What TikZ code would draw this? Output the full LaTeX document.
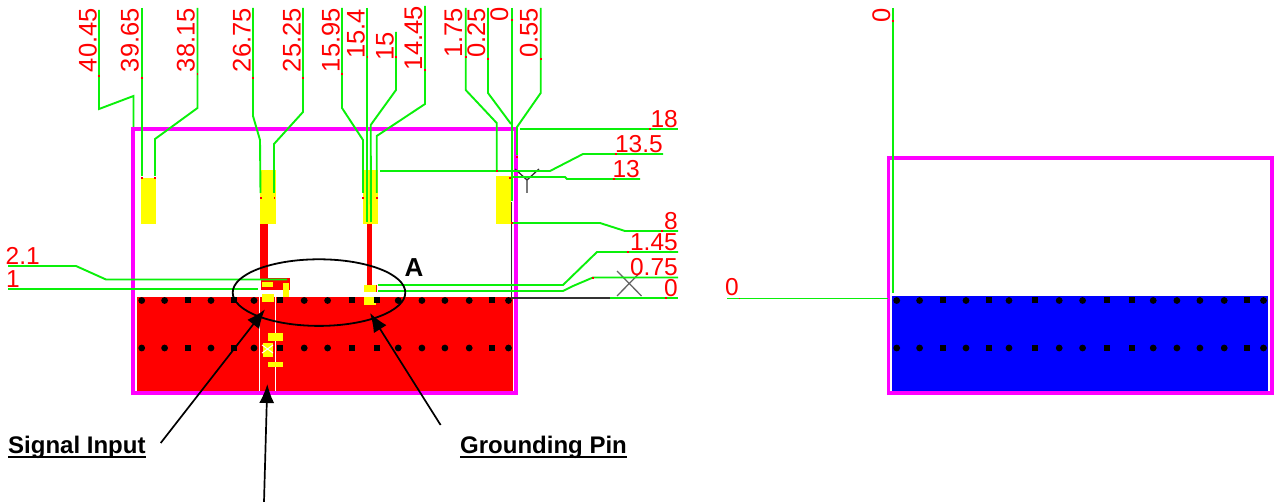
\documentclass[tikz,border=0pt]{standalone}
\usepackage{fontspec}
\setmainfont{Liberation Sans}
\usetikzlibrary{arrows.meta}
\definecolor{pgreen}{RGB}{10,240,10}
\definecolor{pmag}{RGB}{255,0,255}
\definecolor{pred}{RGB}{255,0,0}
\definecolor{pyel}{RGB}{255,255,0}
\definecolor{pblue}{RGB}{0,0,255}
\definecolor{axisgrey}{RGB}{50,50,50}
\newcommand{\ulbox}[1]{\setbox0\hbox{#1}\rlap{\rule[-4.5pt]{\wd0}{2.2pt}}\box0}
\newcommand{\viadots}[1]{%
 \foreach \yy in {300.5,348}{
  \foreach \xx/\kk in {141.7/c,164.6/c,188.3/s,211/c,234.3/s,254/c,280.2/s,304.2/c,327.6/c,351.6/s,377.4/s,398.2/c,421.9/c,444.9/c,469.2/c,492.2/s,508.5/c}{
   \pgfmathsetmacro{\xp}{\xx+#1}
   \if\kk c\fill[black] (\xp,\yy) circle[radius=3.4pt];\else\fill[black] (\xp-3,\yy-3) rectangle (\xp+3,\yy+3);\fi
  }}}
\tikzset{
 x=1pt,y=-1pt,
 trace/.style={draw=pgreen,line width=1.9pt,line join=miter},
 outline/.style={draw=pmag,line width=3.4pt},
 axisline/.style={draw=axisgrey,line width=1.8pt},
 vlab/.style={text=pred,font=\fontsize{25.5}{25.5}\selectfont,rotate=90,anchor=south east,inner sep=0pt},
 hlab/.style={text=pred,font=\fontsize{24.5}{24.5}\selectfont,anchor=south east,inner sep=0pt},
 callout/.style={text=black,font=\bfseries\fontsize{24}{24}\selectfont,anchor=base west,inner sep=0pt},
 pointer/.style={draw=black,line width=1.7pt,-{Latex[length=19pt,width=15pt]}},
 pad/.style={fill=pyel},
 copper/.style={fill=pred},
 tick/.style={fill=pred}
}
\begin{document}
\begin{tikzpicture}
\useasboundingbox (0,0) rectangle (1274,502);
\fill[white] (0,0) rectangle (1274,502);
% ---------- left board
\fill[copper] (137,297.5) rectangle (512.8,392);
\fill[white] (258.5,297.5) rectangle (260,392);
\fill[white] (274.5,297.5) rectangle (276,392);
\draw[outline] (133,129) -- (516,129) -- (516,393) -- (133,393) -- cycle;
% pads and stems
\fill[pad] (140.5,178) rectangle (156,224);
\fill[pad] (260,170) rectangle (275.5,224);
\fill[pad] (362.7,170) rectangle (377.7,224);
\fill[pad] (495.7,176) rectangle (511,224);
\fill[copper] (260.3,224) rectangle (268.3,279);
\fill[copper] (366.7,224) rectangle (372,286);
% input region
\fill[copper] (260.7,278.3) rectangle (290,290);
\fill[pad] (262,281.7) rectangle (273.3,287.3);
\fill[pad] (283.3,283.3) rectangle (288.7,296.7);
\fill[pad] (262,294) rectangle (274,301.7);
\fill[pad] (267.7,332.7) rectangle (283.3,340.7);
\fill[pad] (263.3,342.7) rectangle (272.7,357.3);
\fill[pad] (267.7,361.7) rectangle (283.3,367.3);
\draw[white,line width=1pt] (262,345) -- (273,353) (262,353) -- (273,345);
% grounding pin
\fill[pad] (364.3,285) rectangle (375.7,292.3);
\fill[copper] (375.7,285) rectangle (376.6,292.3);
\fill[pad] (364.3,297.3) rectangle (375.7,305.3);
\viadots{0}
% axes
\draw[axisline] (511.5,202) -- (511.5,298) -- (610,298);
\draw[draw=axisgrey,line width=1.3pt] (515,169) -- (527,180) -- (539,169) (527,180) -- (527,193);
\draw[draw=axisgrey!75,line width=1.3pt] (617,271) -- (641.5,296) (617,296) -- (641.5,271);
% top traces
\draw[trace] (99,10) -- (99,109) -- (133.5,96) -- (133.5,127);
\draw[trace] (142,8) -- (142,176);
\draw[trace] (197.5,8) -- (197.5,108) -- (155,139) -- (155,176);
\draw[trace] (253,8) -- (253,116) -- (260,140) -- (260.5,193);
\draw[trace] (303,8) -- (303,112) -- (274,144) -- (274,193);
\draw[trace] (342,8) -- (342,108) -- (363,140) -- (363,193);
\draw[trace] (367.3,8) -- (367.3,222);
\draw[trace] (396,32) -- (396,90) -- (370.7,125) -- (371,222);
\draw[trace] (425,6) -- (425,104) -- (376.7,136) -- (376.7,193);
\draw[trace] (465.7,8) -- (465.7,90) -- (496.7,123) -- (496.7,170);
\draw[trace] (488,8) -- (488,93) -- (511,124);
\draw[trace] (511.7,8) -- (511.7,201);
\draw[trace] (540.7,8) -- (540.7,93) -- (517,127) -- (517,155);
% right traces
\draw[trace] (520,129) -- (678,129);
\draw[trace] (380,171) -- (550,171) -- (583,154) -- (663,154);
\draw[trace] (511,177) -- (565,177) -- (567,179) -- (640,179);
\draw[trace] (511,223) -- (600,223) -- (625,231) -- (678,231);
\draw[trace] (378,285) -- (563,285) -- (597,252) -- (678,252);
\draw[trace] (378,291) -- (563,291) -- (573,286) -- (593,277.5) -- (678,277.5);
\draw[trace] (610,298) -- (678,298);
% left traces
\draw[trace] (8,266) -- (76,266) -- (106,279.5) -- (287,279.5);
\draw[trace] (8,289.3) -- (258,289.3);
% small end marks
\foreach \px/\py in {99/76,142/78,197.5/74,253/78,303/78,342/74,367.3/57,396/57,425/70,465.7/57,488/59,511.7/20,540.7/59,142/178,155/178,261/198,274.5/198,363/198,377/198,650/129,616/154,614/179,662/231,628/252,593/278,666/298,496.7/171,510/178,511.7/223,517/157}
  \fill[tick] (\px-0.8,\py-0.8) rectangle (\px+0.8,\py+0.8);
% labels
\node[vlab] (v1) at (97,8) {40.45};
\node[vlab] (v2) at (139,8) {39.65};
\node[vlab] (v3) at (195,8) {38.15};
\node[vlab] (v4) at (251,8) {26.75};
\node[vlab] (v5) at (301,8) {25.25};
\node[vlab] (v6) at (340,8) {15.95};
\node[vlab] (v7) at (365,9) {15.4};
\node[vlab] (v8) at (394,32) {15};
\node[vlab] (v9) at (422.5,6) {14.45};
\node[vlab] (v10) at (462.5,8) {1.75};
\node[vlab] (v11) at (485.5,8) {0.25};
\node[vlab] (v12) at (508.5,7) {0};
\node[vlab] (v13) at (538,8) {0.55};
\node[hlab] (h1) at (678,127.5) {18};
\node[hlab] (h2) at (663,152.5) {13.5};
\node[hlab] (h3) at (640,177.5) {13};
\node[hlab] (h4) at (678,229.5) {8};
\node[hlab] (h5) at (678,250.5) {1.45};
\node[hlab] (h6) at (678,275.5) {0.75};
\node[hlab] (h7) at (678,296.5) {0};
\node[hlab] (h8) at (40,264.5) {2.1};
\node[hlab] (h9) at (20,287.5) {1};
% ---------- right board
\fill[pblue] (892.4,296) rectangle (1267.7,392);
\draw[outline] (888.5,158) -- (1271.8,158) -- (1271.8,393) -- (888.5,393) -- cycle;
\viadots{755}
\draw[trace] (893,8) -- (893,293);
\draw[trace] (727,298.5) -- (888,298.5);
\fill[tick] (892.2,20) rectangle (893.8,21.6);
\fill[tick] (738.5,297.7) rectangle (740.1,299.3);
\node[vlab] (r1) at (890.5,8) {0};
\node[hlab] (r2) at (739,295.5) {0};
% ---------- annotations
\draw[black,line width=1.8pt] (319,292.6) ellipse [x radius=86.3pt,y radius=33.3pt];
\node[text=black,font=\bfseries\fontsize{26}{26}\selectfont,anchor=base west,inner sep=0pt] (mark) at (404.5,277) {A};
\node[callout] (sig) at (8,453.5) {\ulbox{Signal Input}};
\node[callout] (gnd) at (460,453.5) {\ulbox{Grounding Pin}};
\coordinate (sigstart) at (160.7,443);
\coordinate (sigtip) at (265,309.3);
\coordinate (gndstart) at (440.6,425);
\coordinate (gndtip) at (370,313);
\coordinate (feedstart) at (264,502);
\coordinate (feedtip) at (267.3,384);
\draw[pointer] (sigstart) -- (sigtip);
\draw[pointer] (gndstart) -- (gndtip);
\draw[pointer] (feedstart) -- (feedtip);
\end{tikzpicture}
\end{document}
